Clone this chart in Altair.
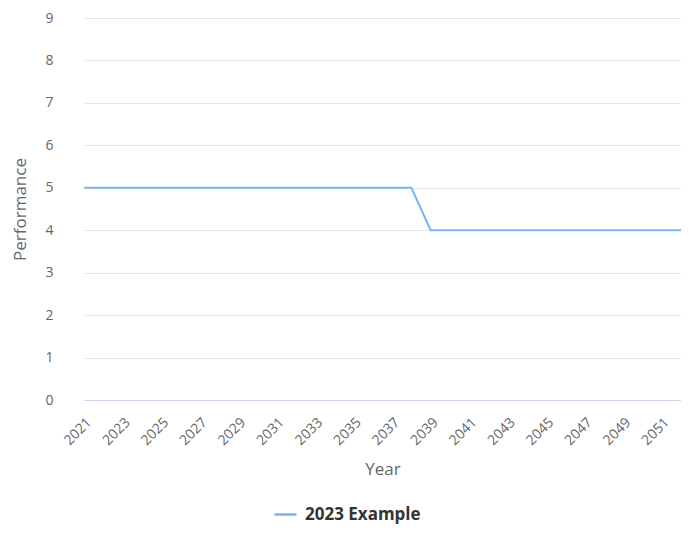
import altair as alt
import pandas as pd

years = list(range(2021, 2053))
performance = [5] * 18 + [4] * 14
series_name = "2023 Example"
label_years = list(range(2021, 2053, 2))

df = pd.DataFrame({"Year": years, "Performance": performance, "Series": series_name})

FONT = "Open Sans"

chart = alt.Chart(df).mark_line(strokeWidth=2).encode(
    x=alt.X("Year:O",
            scale=alt.Scale(type="point", padding=0, range=[9, 606]),
            axis=alt.Axis(values=label_years, labelAngle=-45, labelAlign="right",
                          labelBaseline="top", labelPadding=15, ticks=False, grid=False,
                          domainColor="#ccd6eb", domainWidth=1, labelColor="#666666",
                          labelFontSize=14, labelFont=FONT, title="Year", titleFont=FONT,
                          titleFontSize=17, titleFontWeight="normal", titleColor="#666666",
                          titlePadding=14)),
    y=alt.Y("Performance:Q",
            scale=alt.Scale(domain=[0, 9], nice=False),
            axis=alt.Axis(values=list(range(0, 10)), domain=False, ticks=False,
                          gridColor="#e6e6e6", labelColor="#666666", labelFontSize=14,
                          labelFont=FONT, labelPadding=22, title="Performance",
                          titleFont=FONT, titleFontSize=17, titleFontWeight="normal",
                          titleColor="#666666", titlePadding=15)),
    color=alt.Color("Series:N",
                    scale=alt.Scale(range=["#7cb5ec"]),
                    legend=alt.Legend(title=None, orient="none", legendX=198, legendY=484,
                                      symbolType="stroke", symbolStrokeWidth=2.5,
                                      symbolSize=484, labelFont=FONT, labelFontSize=17,
                                      labelFontWeight="bold", labelColor="#333333",
                                      labelOffset=7)),
).properties(
    width=606, height=382,
    autosize=alt.AutoSizeParams(type="none"),
    padding={"left": 67, "top": 10, "right": 0, "bottom": 125},
).configure_view(stroke=None)

chart.save("out.html", embed_options={"renderer": "svg", "actions": False})
